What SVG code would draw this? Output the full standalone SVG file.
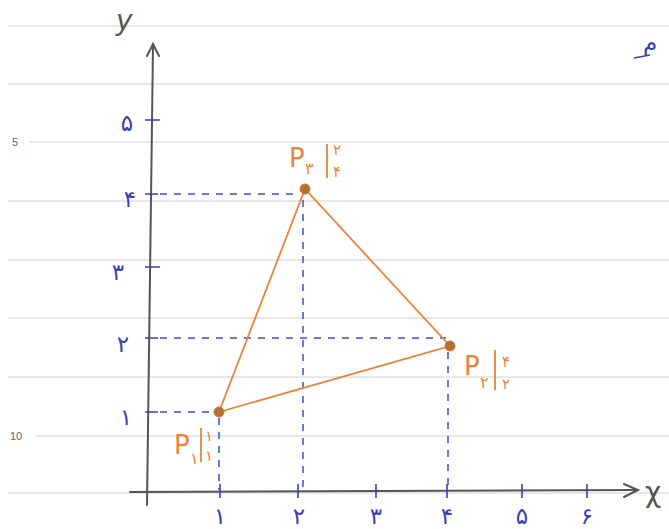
<svg xmlns="http://www.w3.org/2000/svg" width="669" height="529" viewBox="0 0 669 529">
<style>
.rule{stroke:#ccd0d4;stroke-width:1;fill:none}
.axis{stroke:#555;stroke-width:2;fill:none;stroke-linecap:round}
.tick{stroke:#3a3fb8;stroke-width:1.6;fill:none}
.dash{stroke:#3a4fc8;stroke-width:1.5;stroke-dasharray:7 7;fill:none}
.tri{stroke:#e8843c;stroke-width:1.8;fill:none}
.pt{fill:#b8702f;stroke:#c87a36;stroke-width:1}
.num{font-family:"DejaVu Sans",sans-serif;font-size:23px;fill:#3a3fb8;text-anchor:middle}
.lbl{font-family:"DejaVu Sans",sans-serif;fill:#e8843c}
.hand{font-family:"DejaVu Sans",sans-serif;fill:#555}
.ln{font-family:"Liberation Sans",sans-serif;font-size:11px;fill:#666}
</style>
<rect width="669" height="529" fill="#ffffff"/>
<g id="paper">
<path class="rule" d="M8 26H669M8 84H669M30 142H669M8 201H669M8 260H669M8 318H669M8 377H669M36 436H669M8 493H669"/>
<text class="ln" x="12" y="146">5</text>
<text class="ln" x="10" y="440">10</text>
</g>
<g id="axes">
<path class="axis" d="M153 46L147 505"/>
<path class="axis" d="M147 56L153 44L159 56" stroke-width="1.6"/>
<path class="axis" d="M130 492L636 490"/>
<path class="axis" d="M624 484L638 490L624 497" stroke-width="1.6"/>
<text class="hand" x="116" y="30" font-size="28" font-style="italic">y</text>
<text class="hand" x="645" y="502" font-size="28">χ</text>
</g>
<g id="ticks">
<path class="tick" d="M145 120H160M145 194H158M145 267H160M145 338H158M145 412H158"/>
<path class="tick" d="M220 484V498M298 484V498M376 484V498M447 484V498M522 484V498M587 484V498"/>
<text class="num" x="127" y="131">۵</text>
<text class="num" x="130" y="207">۴</text>
<text class="num" x="118" y="280">۳</text>
<text class="num" x="123" y="352">۲</text>
<text class="num" x="126" y="425">۱</text>
<text class="num" x="220" y="524">۱</text>
<text class="num" x="299" y="524">۲</text>
<text class="num" x="376" y="524">۳</text>
<text class="num" x="447" y="524">۴</text>
<text class="num" x="522" y="524">۵</text>
<text class="num" x="587" y="524">۶</text>
<text class="num" x="650" y="50" font-size="34" fill="#3030c0">م</text>
<path class="tick" d="M634 58L650 55" stroke="#3030c0"/>
</g>
<g id="connectors">
<path class="dash" d="M160 194H300M303 200V490"/>
<path class="dash" d="M160 338H446M448 352V490"/>
<path class="dash" d="M160 412H213M219 418V490"/>
<path class="tri" d="M219 412L305 189L450 346Z"/>
</g>
<g id="P1">
<circle class="pt" cx="219" cy="412" r="5"/>
<text class="lbl" x="174" y="454" font-size="26">P</text>
<text class="lbl" x="190" y="464" font-size="16">۱</text>
<path class="tri" d="M201 428V462"/>
<text class="lbl" x="205" y="441" font-size="15">۱</text>
<text class="lbl" x="205" y="461" font-size="15">۱</text>
</g>
<g id="P3">
<circle class="pt" cx="305" cy="189" r="5"/>
<text class="lbl" x="289" y="167" font-size="26">P</text>
<text class="lbl" x="305" y="174" font-size="16">۳</text>
<path class="tri" d="M327 144V178"/>
<text class="lbl" x="333" y="155" font-size="15">۲</text>
<text class="lbl" x="333" y="177" font-size="15">۴</text>
</g>
<g id="P2">
<circle class="pt" cx="450" cy="346" r="5"/>
<text class="lbl" x="464" y="375" font-size="26">P</text>
<text class="lbl" x="480" y="388" font-size="16">۲</text>
<path class="tri" d="M495 350V390"/>
<text class="lbl" x="502" y="367" font-size="15">۴</text>
<text class="lbl" x="502" y="389" font-size="15">۲</text>
</g>
</svg>
